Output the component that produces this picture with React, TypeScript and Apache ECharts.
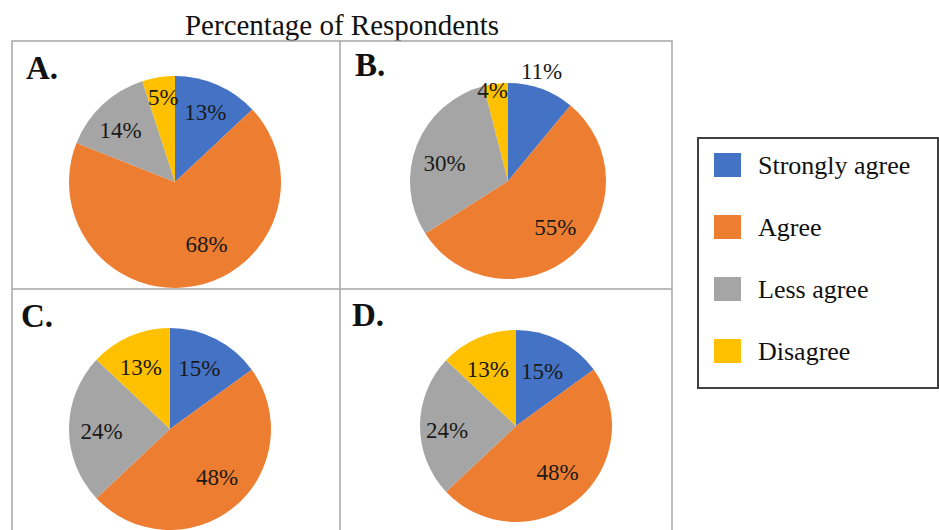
import React, { useEffect, useRef } from "react";
import * as echarts from "echarts";

const categories = ["Strongly agree", "Agree", "Less agree", "Disagree"];
const colors = ["#4472C4", "#ED7D31", "#A5A5A5", "#FFC000"];
const panelNames = ["A.", "B.", "C.", "D."];
const valuesA = [13, 68, 14, 5];
const valuesB = [11, 55, 30, 4];
const valuesC = [15, 48, 24, 13];
const valuesD = [15, 48, 24, 13];
const titleText = "Percentage of Respondents";

// layout (positions only)
const pieLayout = [
  { center: [175, 182], radius: 106, offsets: [[8, -18], [21, 7], [-16, -11], [-3, -29]] },
  { center: [508, 181], radius: 98, offsets: [[16, -61], [13, 7], [-15, 2], [-9, -39]] },
  { center: [170, 429], radius: 101, offsets: [[5, -13], [13, 7], [-15, 2], [-8, -12]] },
  { center: [516, 426], radius: 96, offsets: [[3, -9], [9, 7], [-18, 4], [-8, -10]] },
];
const letterPos = [[26, 68], [355, 65], [21, 316], [352, 315]];
const FONT = "Liberation Serif";

export default function App() {
  const ref = useRef<HTMLDivElement>(null);
  useEffect(() => {
    if (!ref.current) return;
    const chart = echarts.init(ref.current, null, { renderer: "svg" });
    const allValues = [valuesA, valuesB, valuesC, valuesD];
    const series = allValues.map((vals, i) => ({
      type: "pie",
      center: pieLayout[i].center,
      radius: [0, pieLayout[i].radius],
      startAngle: 90,
      clockwise: true,
      silent: true,
      itemStyle: { borderWidth: 0 },
      label: {
        show: true,
        position: "inside",
        formatter: "{c}%",
        color: "#1a1a1a",
        fontSize: 23,
        fontFamily: FONT,
      },
      labelLine: { show: false },
      data: vals.map((v, j) => ({
        name: categories[j],
        value: v,
        itemStyle: { color: colors[j] },
        label: { offset: pieLayout[i].offsets[j] },
      })),
    }));
    const lineStyle = { stroke: "#a6a6a6", lineWidth: 1.5 };
    chart.setOption({
      animation: false,
      backgroundColor: "#ffffff",
      color: colors,
      textStyle: { fontFamily: FONT },
      legend: {
        orient: "vertical",
        left: 709,
        top: 147,
        icon: "rect",
        itemWidth: 27,
        itemHeight: 24,
        itemGap: 36,
        selectedMode: false,
        data: categories,
        textStyle: {
          fontSize: 26,
          fontFamily: FONT,
          color: "#111",
          padding: [0, 0, 0, 12],
        },
      },
      graphic: [
        {
          type: "text",
          x: 342,
          y: 25,
          style: {
            text: titleText,
            fontSize: 29,
            fontFamily: FONT,
            fill: "#111",
            textAlign: "center",
            textVerticalAlign: "middle",
          },
        },
        { type: "rect", shape: { x: 12, y: 41, width: 660, height: 520 }, style: { fill: "none", ...lineStyle } },
        { type: "line", shape: { x1: 340, y1: 41, x2: 340, y2: 540 }, style: lineStyle },
        { type: "line", shape: { x1: 12, y1: 289, x2: 672, y2: 289 }, style: lineStyle },
        { type: "rect", shape: { x: 698, y: 138, width: 240, height: 250 }, style: { fill: "none", stroke: "#404040", lineWidth: 2 } },
        ...panelNames.map((t, i) => ({
          type: "text",
          x: letterPos[i][0],
          y: letterPos[i][1],
          style: {
            text: t,
            fontSize: 33,
            fontWeight: "bold",
            fontFamily: FONT,
            fill: "#111",
            textVerticalAlign: "middle",
          },
        })),
      ],
      series,
    });
    return () => chart.dispose();
  }, []);
  return (
    <div
      ref={ref}
      style={{ position: "fixed", left: 0, top: 0, width: 939, height: 530 }}
    />
  );
}
